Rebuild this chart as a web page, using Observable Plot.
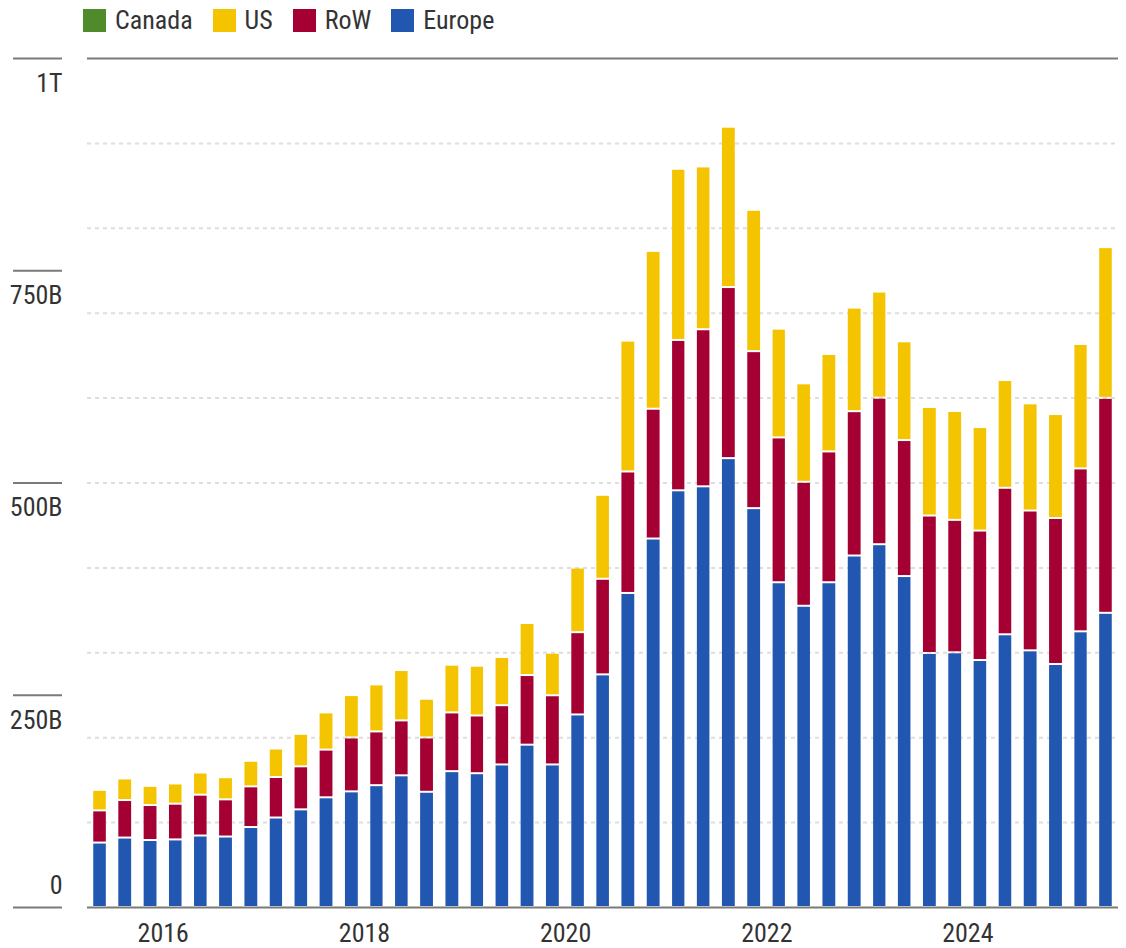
<!DOCTYPE html>
<html>
<head>
<meta charset="utf-8">
<script src="https://cdn.jsdelivr.net/npm/d3@7"></script>
<script src="https://cdn.jsdelivr.net/npm/@observablehq/plot@0.6"></script>
<style>
  body { margin: 0; background: #fff; font-family: "Liberation Sans Narrow", "Roboto Condensed", "DejaVu Sans Condensed", sans-serif; }
  #legend { height: 40px; display: flex; align-items: center; padding-left: 83px; font-size: 26px; color: #333; box-sizing: border-box; }
  .item { display: flex; align-items: center; margin-right: 20px; }
  .sw { width: 23px; height: 23px; margin-right: 9px; }
  #chart svg { display: block; }
</style>
</head>
<body>
<div id="legend"></div>
<div id="chart"></div>
<script>
// Quarter start dates (one bar per quarter)
const quarterStarts = [
  "2015-04-01","2015-07-01","2015-10-01",
  "2016-01-01","2016-04-01","2016-07-01","2016-10-01",
  "2017-01-01","2017-04-01","2017-07-01","2017-10-01",
  "2018-01-01","2018-04-01","2018-07-01","2018-10-01",
  "2019-01-01","2019-04-01","2019-07-01","2019-10-01",
  "2020-01-01","2020-04-01","2020-07-01","2020-10-01",
  "2021-01-01","2021-04-01","2021-07-01","2021-10-01",
  "2022-01-01","2022-04-01","2022-07-01","2022-10-01",
  "2023-01-01","2023-04-01","2023-07-01","2023-10-01",
  "2024-01-01","2024-04-01","2024-07-01","2024-10-01",
  "2025-01-01","2025-04-01"
];
// Values in billions
const europe = [75.9,81.8,78.9,79.6,84.2,83.0,94.2,105.4,115.0,129.2,
  136.2,143.5,155.1,135.7,160.0,157.6,167.9,191.2,167.9,226.8,
  274.0,369.9,434.0,490.8,495.5,528.7,469.8,382.5,354.8,382.5,
  414.0,427.3,389.8,299.2,300.0,290.9,321.2,302.3,286.2,324.7,346.5];
const rowValues = [37.9,44.2,41.2,42.1,48.1,43.8,47.9,47.7,50.7,56.2,
  63.5,63.3,64.7,64.0,69.2,68.0,69.8,82.0,81.5,96.9,
  112.6,143.1,152.9,177.1,185.0,201.5,184.9,170.6,146.0,154.1,
  170.0,172.6,160.2,161.9,156.0,152.5,172.6,164.7,172.0,191.9,253.2];
const us = [24.2,25.4,22.6,23.8,26.1,26.1,30.1,33.6,38.3,43.8,
  49.9,55.4,59.3,45.6,56.2,58.6,56.8,61.3,50.1,76.1,
  98.9,154.1,185.9,201.6,191.8,188.9,166.5,128.1,116.0,114.8,
  122.0,125.0,116.3,127.8,128.2,121.9,126.9,126.2,122.4,146.6,177.5];
const canada = [0,0,0,0,0,0,0,0,0,0, 0,0,0,0,0,0,0,0,0,0,
  0,0,0,0,0,0,0,0,0,0, 0,0,0,0,0,0,0,0,0,0,0];

const seriesNames = ["Canada", "US", "RoW", "Europe"];
const seriesColors = ["#4f8a2b", "#f5c400", "#a50034", "#2157b0"];
const stackOrder = ["Europe", "RoW", "US", "Canada"];

const yTicks = [0, 250, 500, 750, 1000];
const yTickLabels = ["0", "250B", "500B", "750B", "1T"];
const gridValues = [100, 200, 300, 400, 500, 600, 700, 800, 900];
const xTickYears = [2016, 2018, 2020, 2022, 2024];

// Build table
const seriesValues = {Europe: europe, RoW: rowValues, US: us, Canada: canada};
const table = [];
quarterStarts.forEach((q, i) => {
  const start = new Date(q + "T00:00:00Z");
  const end = d3.utcMonth.offset(start, 3);
  for (const s of stackOrder) {
    const v = seriesValues[s][i];
    if (v > 0) table.push({start, end, series: s, value: v});
  }
});

// Legend
const legend = document.getElementById("legend");
seriesNames.forEach((name, i) => {
  const item = document.createElement("div");
  item.className = "item";
  const sw = document.createElement("div");
  sw.className = "sw";
  sw.style.background = seriesColors[i];
  const label = document.createElement("span");
  label.textContent = name;
  item.appendChild(sw);
  item.appendChild(label);
  legend.appendChild(item);
});

const fmtY = d => yTickLabels[yTicks.indexOf(d)];
const xDomainStart = new Date(quarterStarts[0] + "T00:00:00Z");
const xDomainEnd = d3.utcMonth.offset(new Date(quarterStarts[quarterStarts.length - 1] + "T00:00:00Z"), 3);

const chart = Plot.plot({
  width: 1126,
  height: 908,
  marginLeft: 87,
  marginRight: 8,
  marginTop: 18,
  marginBottom: 41,
  style: {
    fontFamily: '"Liberation Sans Narrow", "Roboto Condensed", "DejaVu Sans Condensed", sans-serif',
    fontSize: "26px",
    color: "#333",
    background: "white",
    overflow: "visible"
  },
  x: {type: "utc", domain: [xDomainStart, xDomainEnd], axis: null},
  y: {domain: [0, 1000], axis: null},
  color: {domain: seriesNames, range: seriesColors},
  marks: [
    Plot.ruleY(gridValues, {stroke: "#dedede", strokeWidth: 2, strokeDasharray: "4,4"}),
    Plot.rectY(table, Plot.stackY({
      x1: "start", x2: "end", y: "value", fill: "series", order: stackOrder,
      insetLeft: 6.25, insetRight: 6.25, insetTop: 1, insetBottom: 1
    })),
    Plot.ruleY([0, 1000], {stroke: "#7a7a7a", strokeWidth: 2}),
    Plot.axisY(yTicks, {anchor: "left", tickSize: 49, dx: -25, stroke: "#7a7a7a", strokeWidth: 2, tickFormat: () => "", label: null}),
    Plot.axisY(yTicks.slice(1), {anchor: "left", tickSize: 0, tickPadding: 25, dy: 25, tickFormat: fmtY, fill: "#333", fontSize: 26, label: null}),
    Plot.axisY([0], {anchor: "left", tickSize: 0, tickPadding: 25, dy: -22, tickFormat: fmtY, fill: "#333", fontSize: 26, label: null}),
    Plot.axisX(xTickYears.map(y => new Date(Date.UTC(y, 0, 1))), {
      anchor: "bottom", tickSize: 0, tickPadding: 16, tickFormat: d3.utcFormat("%Y"), fill: "#333", fontSize: 26, label: null
    })
  ]
});
document.getElementById("chart").appendChild(chart);
</script>
</body>
</html>
